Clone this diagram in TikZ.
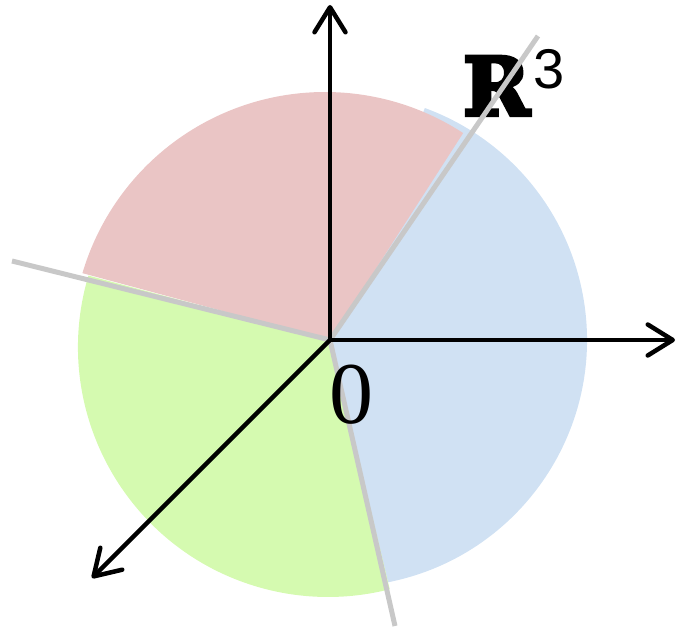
\documentclass[tikz,border=0pt]{standalone}
\usepackage{fontspec}
\setmainfont{Liberation Serif}
\newfontfamily\heavyfont[BoldFeatures={FakeBold=5}]{DejaVu Serif}
\newfontfamily\supfont{Liberation Sans}
\usetikzlibrary{arrows.meta}
\definecolor{sectred}{RGB}{234,197,197}
\definecolor{sectblue}{RGB}{208,225,243}
\definecolor{sectgreen}{RGB}{213,250,176}
\definecolor{divgray}{RGB}{200,200,200}
\tikzset{
  axisline/.style={line width=4.5pt, black, line cap=round,
    -{Straight Barb[length=25pt,width=31pt,line cap=round,line join=round]}},
  divline/.style={line width=5pt, divgray},
}
\begin{document}
\begin{tikzpicture}[x=1pt,y=1pt]
\useasboundingbox (0,0) rectangle (677,629);
\coordinate (O) at (330,289);
% sectors
\fill[sectblue] (O) -- ([shift={(340,289)}]-78.8:247) arc[start angle=-78.8, end angle=69.9, radius=247] -- cycle;
\fill[sectgreen] (O) -- ([shift={(328,282)}]163.4:250) arc[start angle=163.4, end angle=284.3, radius=250] -- cycle;
\fill[sectred] (O) -- ([shift={(325,284)}]56.9:253) arc[start angle=56.9, end angle=163.5, radius=253] -- cycle;
% label R^3
\node (R) [anchor=base west, inner sep=0pt] at (463,514) {\heavyfont\bfseries\fontsize{80}{80}\selectfont R};
\node (three) [anchor=base west, inner sep=0pt] at (R.base east) [xshift=3pt, yshift=26pt] {\supfont\fontsize{56}{56}\selectfont 3};
% dividing lines
\coordinate (g1) at (538,593);
\coordinate (g2) at (12,368);
\coordinate (g3) at (395,3);
\draw[divline] (O) -- (g1);
\draw[divline] (O) -- (g2);
\draw[divline] (O) -- (g3);
% axes
\coordinate (ze) at (330,624);
\coordinate (xe) at (675,289);
\coordinate (ye) at (92,51);
\draw[axisline] (O) -- (ze);
\draw[axisline] (O) -- (xe);
\draw[axisline] (O) -- (ye);
% origin label
\node (zero) [inner sep=0pt] at (351,234) {\fontsize{88}{88}\selectfont 0};
\end{tikzpicture}
\end{document}
